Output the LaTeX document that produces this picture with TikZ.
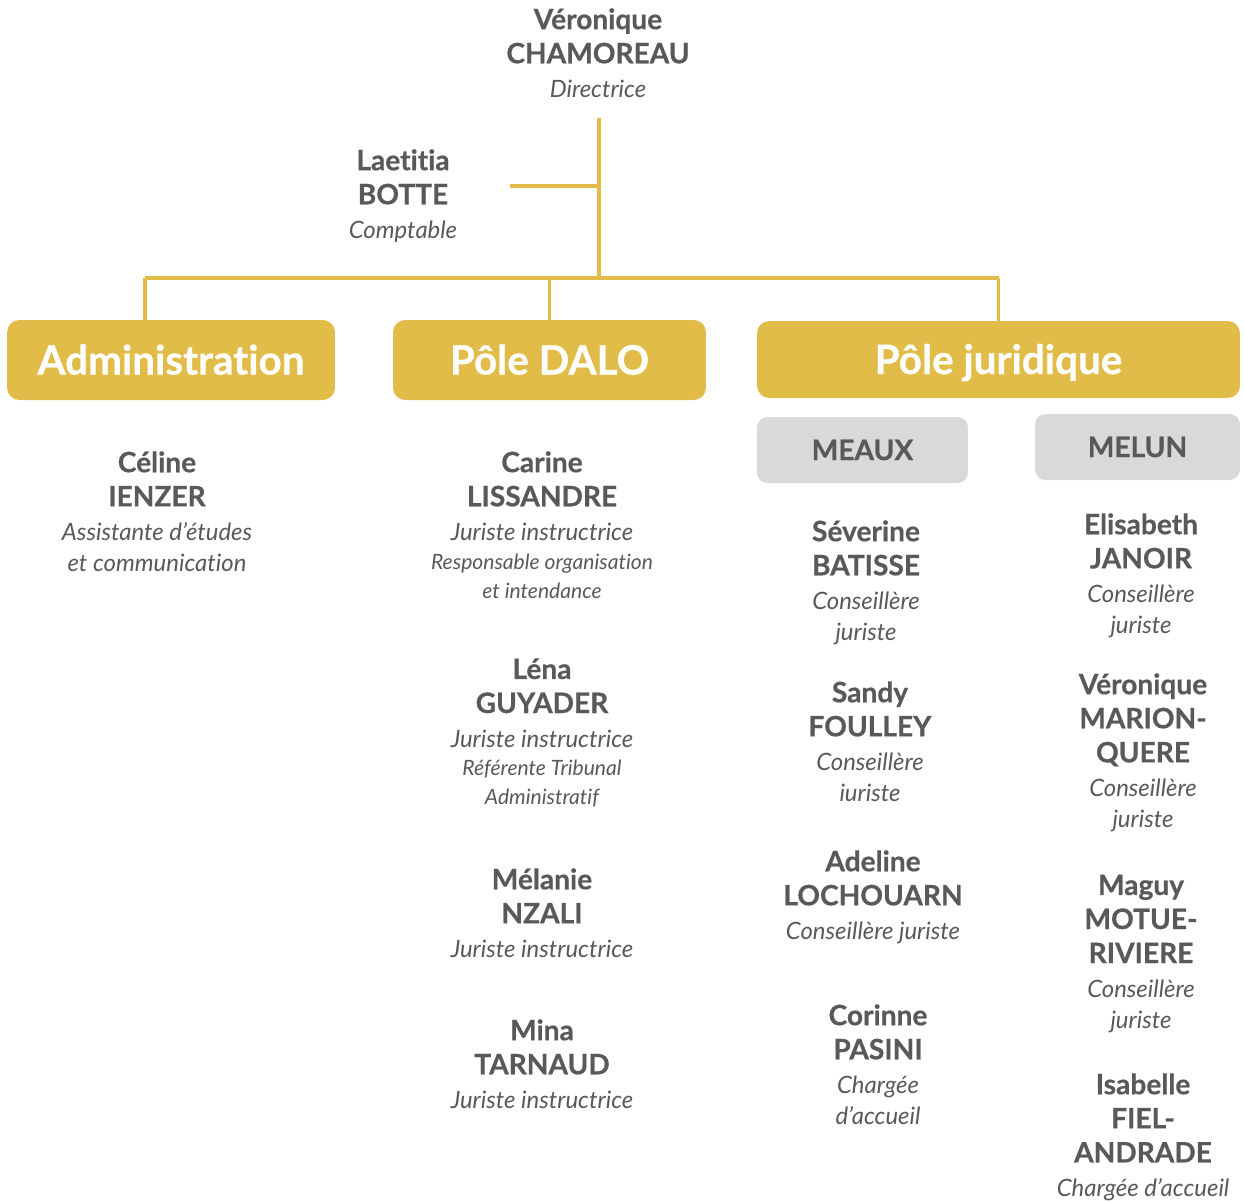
\documentclass[tikz,border=0pt]{standalone}
\usepackage{fontspec}
\setmainfont{Lato}[Ligatures=NoCommon, BoldFeatures={FakeBold=0.6}]
\usepackage{tikz}
\usetikzlibrary{positioning}
\definecolor{orggold}{HTML}{E2BC48}
\definecolor{orgtext}{HTML}{595959}
\definecolor{orggray}{HTML}{D9D9D9}
\newcommand\hd[1]{\rule{0pt}{11.7pt}\textbf{#1}}
\newcommand\nm[1]{\textbf{#1}}
\newcommand\rl[1]{{\fontsize{13.6}{19}\selectfont\itshape #1}}
\newcommand\sm[1]{{\fontsize{12}{19}\selectfont\itshape #1}}

\begin{document}
\begin{tikzpicture}[x=0.02cm, y=-0.02cm,
  pole/.style={fill=orggold, rounded corners=7pt, text=white,
               minimum height=1.6cm, text height=20pt, text depth=3.5pt,
               font=\fontsize{23}{28}\selectfont\bfseries},
  site/.style={fill=orggray, rounded corners=6pt, text=orgtext,
               minimum height=1.32cm, font=\fontsize{16}{18}\selectfont\bfseries},
  person/.style={align=center, anchor=north, inner sep=0pt, text=orgtext,
                 font=\fontsize{16}{19.4}\selectfont},
  link/.style={draw=orggold, line width=1.8pt}
]
\useasboundingbox (0,0) rectangle (1244,1201);

%% Direction
\node[person] (dir) at (598,8) {\hd{Véronique}\\\nm{CHAMOREAU}\\\rl{Directrice}};
\node[person] (botte) at (403,149) {\hd{Laetitia}\\\nm{BOTTE}\\\rl{Comptable}};

%% Poles
\node[pole, minimum width=6.56cm] (admin) at (171,360) {Administration};
\node[pole, minimum width=6.26cm] (dalo) at (549.5,360) {Pôle DALO};
\node[pole, minimum width=9.66cm, minimum height=1.54cm] (juri) at (998.5,359.5) {Pôle juridique};
\node[site, minimum width=4.22cm] (meaux) at (862.5,450) {MEAUX};
\node[site, minimum width=4.1cm] (melun) at (1137.5,447) {MELUN};

%% Links
\coordinate (top) at (599,118);
\coordinate (bus) at (599,278);
\coordinate (bottelink) at (510,186);
\coordinate (busL) at (145,278);
\draw[link] (top) -- (bus);
\draw[link] (bottelink) -- (bottelink -| top);
\draw[link] (busL) -- (bus -| juri.north);
\draw[link] (busL) -- (busL |- admin.north);
\draw[link] (bus -| dalo.north) -- (dalo.north);
\draw[link] (bus -| juri.north) -- (juri.north);

%% Administration
\node[person] (ienzer) at (157,451) {\hd{Céline}\\\nm{IENZER}\\\rl{Assistante d’études}\\[-1.5pt]\rl{et communication}};

%% Pole DALO
\node[person] (lissandre) at (542,451) {\hd{Carine}\\\nm{LISSANDRE}\\\rl{Juriste instructrice}\\[-3pt]\sm{Responsable organisation}\\[-3pt]\sm{et intendance}};
\node[person] (guyader) at (542,658) {\hd{Léna}\\\nm{GUYADER}\\\rl{Juriste instructrice}\\[-3pt]\sm{Référente Tribunal}\\[-3pt]\sm{Administratif}};
\node[person] (nzali) at (542,868) {\hd{Mélanie}\\\nm{NZALI}\\\rl{Juriste instructrice}};
\node[person] (tarnaud) at (542,1019) {\hd{Mina}\\\nm{TARNAUD}\\\rl{Juriste instructrice}};

%% Meaux
\node[person] (batisse) at (866,520) {\hd{Séverine}\\\nm{BATISSE}\\\rl{Conseillère}\\[-1.5pt]\rl{juriste}};
\node[person] (foulley) at (870,681) {\hd{Sandy}\\\nm{FOULLEY}\\\rl{Conseillère}\\[-1.5pt]\rl{iuriste}};
\node[person] (lochouarn) at (873,850) {\hd{Adeline}\\\nm{LOCHOUARN}\\\rl{Conseillère juriste}};
\node[person] (pasini) at (878,1004) {\hd{Corinne}\\\nm{PASINI}\\\rl{Chargée}\\[-1.5pt]\rl{d’accueil}};

%% Melun
\node[person] (janoir) at (1141,513) {\hd{Elisabeth}\\\nm{JANOIR}\\\rl{Conseillère}\\[-1.5pt]\rl{juriste}};
\node[person] (marion) at (1143,673) {\hd{Véronique}\\\nm{MARION-}\\\nm{QUERE}\\\rl{Conseillère}\\[-1.5pt]\rl{juriste}};
\node[person] (motue) at (1141,874) {\hd{Maguy}\\\nm{MOTUE-}\\\nm{RIVIERE}\\\rl{Conseillère}\\[-1.5pt]\rl{juriste}};
\node[person] (fiel) at (1143,1073) {\hd{Isabelle}\\\nm{FIEL-}\\\nm{ANDRADE}\\\rl{Chargée d’accueil}};

\end{tikzpicture}
\end{document}
